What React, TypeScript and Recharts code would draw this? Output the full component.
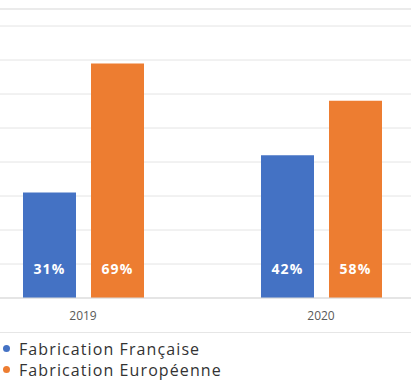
import React from "react";
import { BarChart, Bar, XAxis, YAxis, CartesianGrid, Legend, LabelList } from "recharts";

const years = ["2019", "2020"];
const francaise = [31, 42];
const europeenne = [69, 58];
const yTicks = [0, 10, 20, 30, 40, 50, 60, 70, 80];

const BLUE = "#4472C4";
const ORANGE = "#ED7D31";

const data = years.map((year, i) => ({
  year,
  francaise: francaise[i],
  europeenne: europeenne[i],
}));

const seriesOrder = ["francaise", "europeenne"];
const seriesNames: Record<string, string> = {
  francaise: "Fabrication Française",
  europeenne: "Fabrication Européenne",
};

const renderLegend = (props: any) => {
  const payload = [...(props.payload || [])].sort(
    (a: any, b: any) => seriesOrder.indexOf(a.dataKey) - seriesOrder.indexOf(b.dataKey)
  );
  return (
    <div>
      {payload.map((entry: any) => (
        <div
          key={entry.dataKey}
          style={{ display: "flex", alignItems: "center", height: 21, fontFamily: "'Open Sans', sans-serif", fontSize: 16, fontWeight: 500, letterSpacing: 1.1, color: "#333" }}
        >
          <span style={{ width: 7, height: 7, borderRadius: "50%", background: entry.color, marginLeft: 3, marginRight: 9 }} />
          {seriesNames[entry.dataKey]}
        </div>
      ))}
    </div>
  );
};

const labelStyle = { fill: "#fff", fontSize: 14, fontWeight: 700, fontFamily: "'Open Sans', sans-serif", letterSpacing: 1.2 };

export default function App() {
  return (
    <div style={{ position: "fixed", top: 0, left: 0, width: 411, height: 381, overflow: "hidden", background: "#fff" }}>
      {/* frame lines around the plot box */}
      <div style={{ position: "absolute", top: 8, left: 0, width: 411, height: 2, background: "#ebebeb" }} />
      <div style={{ position: "absolute", top: 332, left: 0, width: 411, height: 1, background: "#e6e6e6" }} />
      <div style={{ position: "absolute", top: 0, left: -36 }}>
        <BarChart
          width={476}
          height={381}
          data={data}
          margin={{ top: 26, right: 0, left: 0, bottom: 49 }}
          barSize={53}
          barGap={15}
        >
          <CartesianGrid vertical={false} stroke="#e4e4e4" />
          <YAxis hide domain={[0, 80]} ticks={yTicks} />
          <XAxis
            dataKey="year"
            height={34}
            axisLine={{ stroke: "#d9d9d9" }}
            tickLine={false}
            tickSize={0}
            tickMargin={13}
            tick={{ fill: "#595959", fontSize: 12, fontFamily: "'Open Sans', sans-serif" }}
          />
          <Legend
            layout="horizontal"
            align="center"
            verticalAlign="middle"
            content={renderLegend}
            wrapperStyle={{ top: 338, left: 36, width: 300 }}
          />
          <Bar dataKey="francaise" fill={BLUE} isAnimationActive={false}>
            <LabelList dataKey="francaise" position="insideBottom" offset={24} formatter={(v: any) => `${v}%`} style={labelStyle} />
          </Bar>
          <Bar dataKey="europeenne" fill={ORANGE} isAnimationActive={false}>
            <LabelList dataKey="europeenne" position="insideBottom" offset={24} formatter={(v: any) => `${v}%`} style={labelStyle} />
          </Bar>
        </BarChart>
      </div>
    </div>
  );
}
